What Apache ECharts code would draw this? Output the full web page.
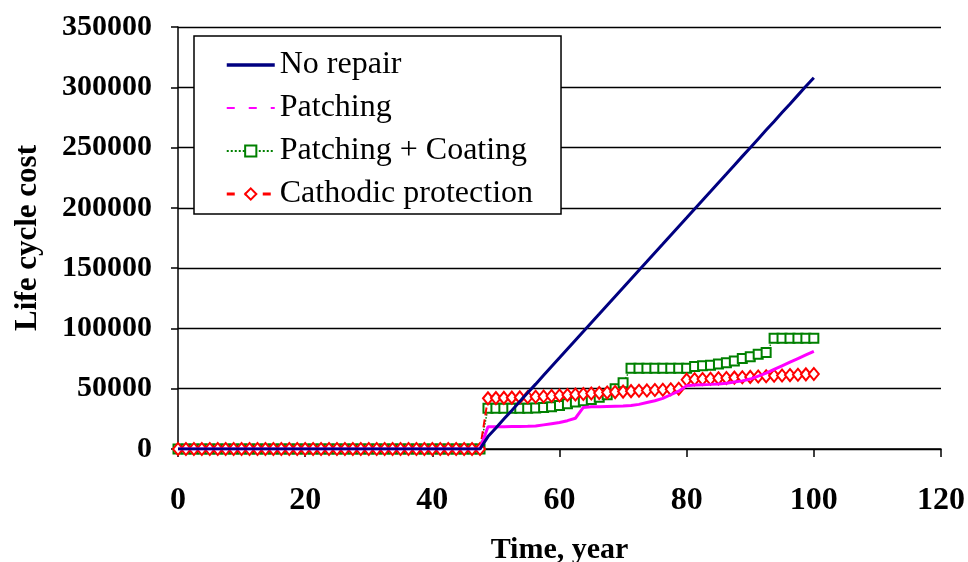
<!DOCTYPE html>
<html>
<head>
<meta charset="utf-8">
<script src="https://cdn.jsdelivr.net/npm/echarts@6/dist/echarts.min.js"></script>
<style>html,body{margin:0;padding:0;background:#fff;}#c{width:968px;height:562px;}</style>
</head>
<body>
<div id="c"></div>
<script>
var years = [0,1.25,2.5,3.75,5,6.25,7.5,8.75,10,11.25,12.5,13.75,15,16.25,17.5,18.75,20,21.25,22.5,23.75,25,26.25,27.5,28.75,30,31.25,32.5,33.75,35,36.25,37.5,38.75,40,41.25,42.5,43.75,45,46.25,47.5,
48.75,50,51.25,52.5,53.75,55,56.25,57.5,58.75,60,61.25,62.5,63.75,65,66.25,67.5,68.75,70,71.25,72.5,73.75,75,76.25,77.5,78.75,80,81.25,82.5,83.75,85,86.25,87.5,88.75,90,91.25,92.5,93.75,95,96.25,97.5,98.75,100];

var noRepair = [0,0,0,0,0,0,0,0,0,0,0,0,0,0,0,0,0,0,0,0,0,0,0,0,0,0,0,0,0,0,0,0,0,0,0,0,0,0,0,
10300,17500,24800,32000,39300,46600,53800,61100,68400,75600,82900,90200,97400,104700,111900,119200,126500,133700,141000,148300,155500,162800,170000,177300,184600,191800,199100,206400,213600,220900,228100,235400,242700,249900,257200,264500,271700,279000,286200,293500,300800,308000];

var patching = [0,0,0,0,0,0,0,0,0,0,0,0,0,0,0,0,0,0,0,0,0,0,0,0,0,0,0,0,0,0,0,0,0,0,0,0,0,0,0,
18500,18500,18500,18600,18700,18800,19000,20000,21000,22000,23500,25500,34500,35000,35000,35200,35400,35600,36000,37000,38500,40000,42000,45000,48000,52500,53000,53300,53600,54000,54500,55500,56500,58000,60500,63000,66000,69000,72000,75000,78000,81000];

var patchingCoating = [0,0,0,0,0,0,0,0,0,0,0,0,0,0,0,0,0,0,0,0,0,0,0,0,0,0,0,0,0,0,0,0,0,0,0,0,0,0,0,
33700,33700,33700,33700,33800,33900,34000,34500,35000,36000,37500,39000,40000,41000,43000,45000,50000,55000,66900,66900,66900,66900,66900,66900,66900,66900,68500,69000,69500,70500,71500,73000,75000,76500,78500,80000,91800,91800,91800,91800,91800,91800];

var cathodic = [0,0,0,0,0,0,0,0,0,0,0,0,0,0,0,0,0,0,0,0,0,0,0,0,0,0,0,0,0,0,0,0,0,0,0,0,0,0,0,
42000,42200,42400,42600,42800,43000,43300,43600,44000,44400,44800,45200,45600,46000,46400,46800,47200,47600,48000,48300,48600,48900,49200,49500,50000,57500,57800,58000,58300,58600,58900,59200,59500,59800,60100,60400,60700,61000,61300,61600,61900,62200];

var seriesNames = ['No repair','Patching','Patching + Coating','Cathodic protection'];
var xTicks = {min:0, max:120, interval:20};
var yTicks = {min:0, max:350000, interval:50000};

function pairs(vals){ return years.map(function(x,i){ return [x, vals[i]]; }); }

var FONT = '"Liberation Serif","Times New Roman",serif';
var chart = echarts.init(document.getElementById('c'), null, {renderer:'canvas'});
var hidden = {color:'transparent', borderColor:'transparent', opacity:0};
chart.setOption({
  animation:false,
  backgroundColor:'#fff',
  grid:{left:178, right:27, top:27, bottom:113, containLabel:false, outerBoundsMode:'none'},
  legend:{
    orient:'vertical', left:194, top:36,
    backgroundColor:'#fff', borderColor:'#000', borderWidth:1.5,
    padding:[13,28,4,31], itemGap:11, itemWidth:48, itemHeight:14,
    textStyle:{fontFamily:FONT, fontSize:32, color:'#000'},
    data:[
      {name:seriesNames[0], itemStyle:hidden, lineStyle:{width:3.5, color:'#000080'}},
      {name:seriesNames[1], itemStyle:hidden, lineStyle:{type:[8,14], width:2, color:'#ff00ff'}},
      {name:seriesNames[2]},
      {name:seriesNames[3], lineStyle:{type:[8,10], width:3, color:'#ff0000'}}
    ]
  },
  xAxis:{
    type:'value', min:xTicks.min, max:xTicks.max, interval:xTicks.interval,
    name:'Time, year', nameLocation:'middle', nameGap:86,
    nameTextStyle:{fontFamily:FONT, fontSize:30, fontWeight:'bold', color:'#000'},
    axisLine:{show:true, onZero:false, lineStyle:{color:'#000', width:1.5}},
    axisTick:{show:true, length:8, lineStyle:{color:'#000', width:1.5}},
    axisLabel:{margin:36, fontFamily:FONT, fontSize:32, fontWeight:'bold', color:'#000'},
    splitLine:{show:false}
  },
  yAxis:{
    type:'value', min:yTicks.min, max:yTicks.max, interval:yTicks.interval,
    name:'Life cycle cost', nameLocation:'middle', nameGap:135, nameRotate:90,
    nameTextStyle:{fontFamily:FONT, fontSize:31, fontWeight:'bold', color:'#000'},
    axisLine:{show:true, lineStyle:{color:'#000', width:1.5}},
    axisTick:{show:true, length:7, lineStyle:{color:'#000', width:1.5}},
    axisLabel:{margin:26, fontFamily:FONT, fontSize:30, fontWeight:'bold', color:'#000',
      formatter:function(v){ return String(v); }},
    splitLine:{show:true, lineStyle:{color:'#000', width:1.3}}
  },
  series:[
    {name:seriesNames[0], type:'line', data:pairs(noRepair), showSymbol:false, symbol:'none', z:10,
     lineStyle:{color:'#000080', width:3}, itemStyle:{color:'#000080'}},
    {name:seriesNames[1], type:'line', data:pairs(patching), symbol:'none', z:8,
     lineStyle:{color:'#ff00ff', width:3}, itemStyle:{color:'#ff00ff'}},
    {name:seriesNames[2], type:'line', data:pairs(patchingCoating), symbol:'emptyRect', symbolSize:9, z:5,
     lineStyle:{color:'#008000', width:1.5, type:'dotted'}, itemStyle:{color:'#008000', borderWidth:1.8}},
    {name:seriesNames[3], type:'line', data:pairs(cathodic), symbol:'emptyDiamond', symbolSize:[10,12], z:6,
     lineStyle:{color:'#ff0000', width:2, type:'dashed'}, itemStyle:{color:'#ff0000', borderWidth:1.5}}
  ]
});
</script>
</body>
</html>
